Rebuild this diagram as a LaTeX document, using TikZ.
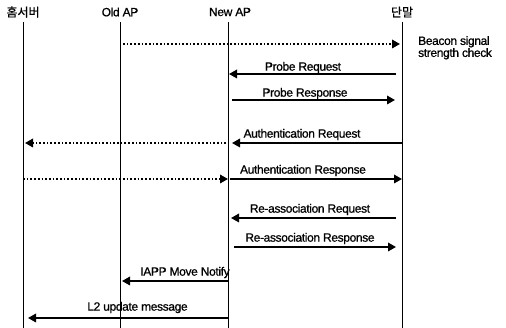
\documentclass[tikz,border=0pt]{standalone}
\usepackage{fontspec}
\setmainfont{Liberation Sans}[LetterSpace=-3, FakeBold=0.8]
\newfontfamily\krfont{Noto Sans CJK KR}[FakeBold=0.5]
\usetikzlibrary{arrows.meta}

\begin{document}
\begin{tikzpicture}[x=1pt, y=-1pt,
  every node/.style={inner sep=0pt, font=\fontsize{12}{12}\selectfont},
  head/.style={anchor=center},
  life/.style={line width=0.8pt},
  msg/.style={line width=1.7pt, -{Triangle[length=8pt,width=8.5pt]}},
  dotmsg/.style={msg, dotted},
  lbl/.style={midway, above=#1},
  lbl/.default=2pt
]
\useasboundingbox (0,0) rectangle (506,328);
% lifelines
\node[head] (hs)  at (23,12)  {\krfont 홈서버};
\node[head] (old) at (120,12) {Old AP};
\node[head] (new) at (230,12) {New AP};
\node[head] (ue)  at (402,12) {\krfont 단말};
\foreach \n/\x in {hs/23,old/120,new/228,ue/402}
  \draw[life] (\x,22) coordinate (\n-top) -- (\x,328) coordinate (\n-bot);

% messages
\draw[dotmsg, shorten <=3pt, shorten >=2pt] (old-top |- 0,44) -- (ue-top |- 0,44);
\node[anchor=north west, align=left] (beacon) at (418,36) {Beacon signal\\strength check};

\draw[msg, shorten <=6pt, shorten >=1pt] (ue-top |- 0,74) -- (new-top |- 0,74) node[lbl=0pt, xshift=-12pt] (preq) {Probe Request};
\draw[msg, shorten <=4pt, shorten >=7pt] (new-top |- 0,100) -- (ue-top |- 0,100) node[lbl=0pt, xshift=-10pt] (pres) {Probe Response};

\draw[msg, shorten >=4pt] (ue-top |- 0,143) -- (new-top |- 0,143) node[lbl, xshift=-13pt] (areq) {Authentication Request};
\draw[dotmsg, shorten <=2pt, shorten >=2pt] (new-top |- 0,143) -- (hs-top |- 0,143);
\draw[dotmsg, shorten >=0pt] (hs-top |- 0,179) -- (new-top |- 0,179);
\draw[msg, shorten <=2pt] (new-top |- 0,179) -- (ue-top |- 0,179) node[lbl, xshift=-12pt] (ares) {Authentication Response};

\draw[msg, shorten <=6pt, shorten >=3pt] (ue-top |- 0,218) -- (new-top |- 0,218) node[lbl, xshift=-5pt] (rreq) {Re-association Request};
\draw[msg, shorten <=6pt, shorten >=6pt] (new-top |- 0,247) -- (ue-top |- 0,247) node[lbl, xshift=-5pt] (rres) {Re-association Response};

\draw[msg, shorten >=2pt] (new-top |- 0,281) -- (old-top |- 0,281) node[lbl, xshift=11pt] (iapp) {IAPP Move Notify};
\draw[msg, shorten >=5pt] (new-top |- 0,318) -- (hs-top |- 0,318) node[lbl=4pt, xshift=12pt] (l2) {L2 update message};
\end{tikzpicture}
\end{document}
